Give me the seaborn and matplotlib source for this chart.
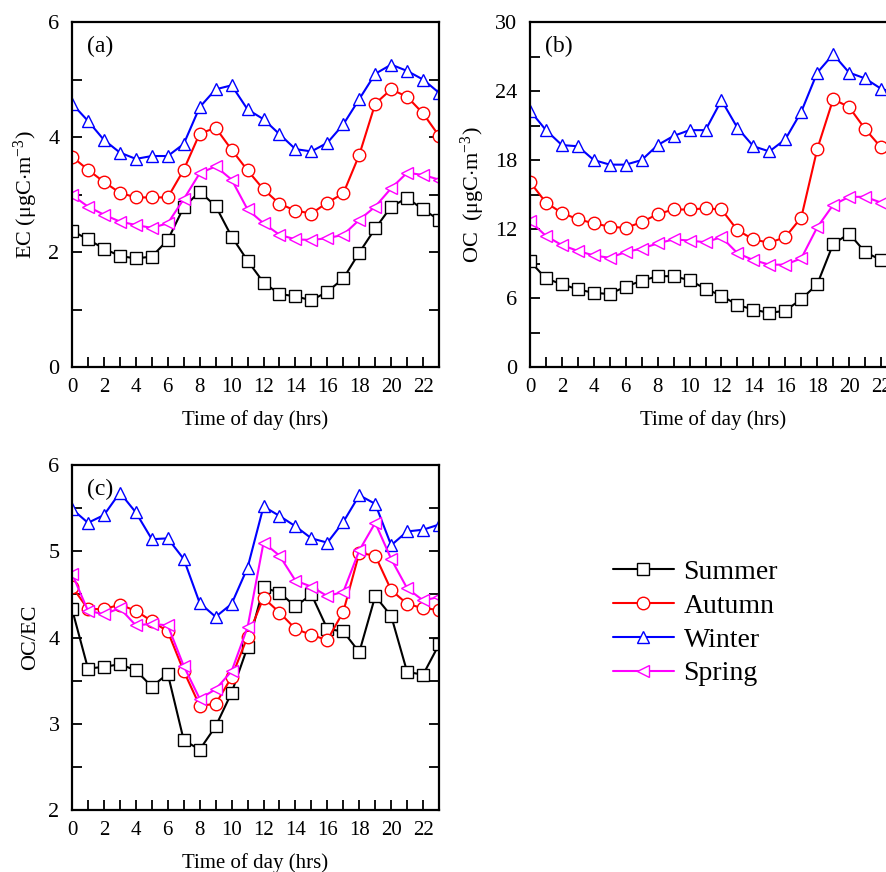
import pandas as pd
import seaborn as sns
import matplotlib.pyplot as plt
from matplotlib.ticker import MultipleLocator

hours = list(range(24))
seasons = ['Summer', 'Autumn', 'Winter', 'Spring']

# EC (ugC/m3)
ec_summer = [2.37, 2.22, 2.06, 1.93, 1.89, 1.92, 2.21, 2.78, 3.05, 2.80, 2.27, 1.85,
             1.47, 1.27, 1.23, 1.16, 1.31, 1.54, 1.99, 2.41, 2.79, 2.94, 2.74, 2.56]
ec_autumn = [3.66, 3.43, 3.22, 3.03, 2.95, 2.95, 2.95, 3.43, 4.06, 4.16, 3.78, 3.42,
             3.09, 2.84, 2.72, 2.67, 2.86, 3.02, 3.69, 4.58, 4.83, 4.70, 4.41, 4.02]
ec_winter = [4.58, 4.28, 3.95, 3.73, 3.62, 3.67, 3.67, 3.88, 4.52, 4.83, 4.90, 4.48,
             4.31, 4.05, 3.79, 3.75, 3.90, 4.22, 4.66, 5.10, 5.26, 5.15, 5.00, 4.77]
ec_spring = [2.99, 2.79, 2.65, 2.53, 2.47, 2.42, 2.50, 2.92, 3.37, 3.49, 3.26, 2.74,
             2.50, 2.30, 2.22, 2.21, 2.24, 2.30, 2.56, 2.79, 3.11, 3.38, 3.34, 3.26]

# OC (ugC/m3)
oc_summer = [9.2, 7.7, 7.2, 6.75, 6.45, 6.35, 7.0, 7.5, 7.9, 7.9, 7.55, 6.8,
             6.2, 5.4, 5.0, 4.7, 4.9, 5.9, 7.2, 10.7, 11.6, 10.0, 9.3, 9.0]
oc_autumn = [16.1, 14.3, 13.4, 12.85, 12.5, 12.2, 12.1, 12.6, 13.3, 13.7, 13.7, 13.8,
             13.7, 11.9, 11.1, 10.8, 11.3, 13.0, 18.95, 23.3, 22.6, 20.7, 19.1, 18.4]
oc_winter = [22.3, 20.6, 19.3, 19.2, 18.0, 17.6, 17.6, 18.0, 19.3, 20.1, 20.6, 20.6,
             23.2, 20.8, 19.2, 18.75, 19.8, 22.2, 25.6, 27.2, 25.6, 25.1, 24.2, 23.8]
oc_spring = [12.7, 11.4, 10.6, 10.1, 9.7, 9.5, 10.0, 10.3, 10.75, 11.1, 11.0, 10.85,
             11.3, 9.9, 9.3, 8.9, 8.9, 9.45, 12.15, 14.1, 14.8, 14.8, 14.3, 14.0]

# OC/EC
r_summer = [4.33, 3.64, 3.66, 3.69, 3.62, 3.43, 3.58, 2.81, 2.70, 2.97, 3.36, 3.89,
            4.58, 4.52, 4.36, 4.50, 4.10, 4.07, 3.83, 4.48, 4.25, 3.60, 3.57, 3.92]
r_autumn = [4.59, 4.33, 4.33, 4.38, 4.31, 4.19, 4.07, 3.61, 3.21, 3.23, 3.54, 4.01,
            4.46, 4.29, 4.10, 4.03, 3.97, 4.30, 4.98, 4.95, 4.55, 4.39, 4.34, 4.32]
r_winter = [5.49, 5.33, 5.42, 5.68, 5.45, 5.14, 5.15, 4.91, 4.40, 4.24, 4.39, 4.81,
            5.52, 5.41, 5.29, 5.15, 5.10, 5.34, 5.65, 5.55, 5.07, 5.23, 5.25, 5.31]
r_spring = [4.74, 4.31, 4.27, 4.34, 4.14, 4.16, 4.14, 3.67, 3.29, 3.40, 3.61, 4.12,
            5.10, 4.95, 4.66, 4.59, 4.48, 4.53, 5.01, 5.33, 4.91, 4.57, 4.43, 4.47]

colors = {'Summer': 'black', 'Autumn': 'red', 'Winter': 'blue', 'Spring': 'magenta'}
markers = {'Summer': 's', 'Autumn': 'o', 'Winter': '^', 'Spring': '<'}

ec = {'Summer': ec_summer, 'Autumn': ec_autumn, 'Winter': ec_winter, 'Spring': ec_spring}
oc = {'Summer': oc_summer, 'Autumn': oc_autumn, 'Winter': oc_winter, 'Spring': oc_spring}
ratio = {'Summer': r_summer, 'Autumn': r_autumn, 'Winter': r_winter, 'Spring': r_spring}

df = pd.concat([pd.DataFrame({'hour': hours, 'season': s, 'EC': ec[s], 'OC': oc[s],
                              'OCEC': ratio[s]}) for s in seasons], ignore_index=True)

sns.set_style('ticks')
plt.rcParams['font.family'] = ['Liberation Serif', 'DejaVu Serif']
plt.rcParams['mathtext.fontset'] = 'custom'
plt.rcParams['mathtext.rm'] = 'Liberation Serif'
plt.rcParams['mathtext.it'] = 'Liberation Serif:italic'
for key in ['text.color', 'axes.labelcolor', 'axes.edgecolor', 'xtick.color', 'ytick.color']:
  plt.rcParams[key] = 'black'


def panel(ax, col, ylim, ymaj, ymin, ylabel, tag):
  for s in seasons:
    sub = df[df['season'] == s]
    sns.lineplot(data=sub, x='hour', y=col, ax=ax, color=colors[s], marker=markers[s],
                 markersize=9, markerfacecolor='white', markeredgecolor=colors[s],
                 markeredgewidth=1.0, linewidth=1.5, errorbar=None, legend=False)
  ax.set_xlim(0, 23)
  ax.set_ylim(*ylim)
  ax.xaxis.set_major_locator(MultipleLocator(2))
  ax.xaxis.set_minor_locator(MultipleLocator(1))
  ax.yaxis.set_major_locator(MultipleLocator(ymaj))
  ax.yaxis.set_minor_locator(MultipleLocator(ymin))
  ax.tick_params(which='both', direction='in', length=7, width=1.3, top=False, right=True)
  ax.tick_params(axis='x', pad=8, labelsize=15)
  ax.tick_params(axis='y', pad=9, labelsize=16)
  for sp in ax.spines.values():
    sp.set_linewidth(1.6)
  ax.set_xlabel('Time of day (hrs)', fontsize=15, labelpad=9)
  ax.set_ylabel(ylabel, fontsize=16, labelpad=6)
  ax.text(0.04, 0.96, tag, transform=ax.transAxes, va='top', ha='left', fontsize=17)


fig = plt.figure(figsize=(8.87, 8.72), dpi=100)
ax_a = fig.add_axes([0.0812, 0.5791, 0.4138, 0.3956])
ax_b = fig.add_axes([0.5975, 0.5791, 0.4138, 0.3956])
ax_c = fig.add_axes([0.0812, 0.0711, 0.4138, 0.3956])

panel(ax_a, 'EC', (0, 6), 2, 1, r'EC ($\mathrm{\mu gC{\cdot}m^{-3}}$)', '(a)')
panel(ax_b, 'OC', (0, 30), 6, 3, r'OC  ($\mathrm{\mu gC{\cdot}m^{-3}}$)', '(b)')
panel(ax_c, 'OCEC', (2, 6), 1, 0.5, 'OC/EC', '(c)')

fig.legend(handles=ax_a.lines[:4], labels=seasons, loc='center', bbox_to_anchor=(0.784, 0.2856),
           frameon=False, fontsize=20, handlelength=2.2, handletextpad=0.35, labelspacing=0.3)

fig.savefig('out.png', dpi=100)
plt.close()
